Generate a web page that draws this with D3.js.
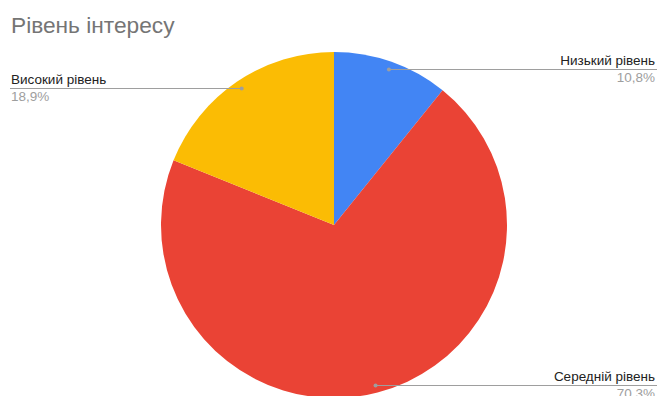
<!DOCTYPE html>
<html>
<head>
<meta charset="utf-8">
<script src="https://cdn.jsdelivr.net/npm/d3@7"></script>
<style>
	body { margin: 0; background: #fff; }
	svg { display: block; font-family: Arial, "Liberation Sans", sans-serif; }
</style>
</head>
<body>
<svg></svg>
<script>
const categories = ['Низький рівень', 'Середній рівень', 'Високий рівень'];
const values = [10.8, 70.3, 18.9];
const percentLabels = ['10,8%', '70,3%', '18,9%'];
const colors = ['#4285f4', '#ea4335', '#fbbc04'];

const width = 657;
const height = 396;
const cx = 334;
const cy = 225;
const radius = 173;
const dotRadius = 165;

const data = categories.map((c, i) => ({ name: c, value: values[i], pct: percentLabels[i], color: colors[i] }));

const svg = d3.select('svg')
	.attr('width', width)
	.attr('height', height);

svg.append('text')
	.attr('x', 11)
	.attr('y', 33)
	.attr('fill', '#757575')
	.style('font-size', '22.7px')
	.text('Рівень інтересу');

const pie = d3.pie().sort(null).value(d => d.value);
const arc = d3.arc().innerRadius(0).outerRadius(radius);
const dotArc = d3.arc().innerRadius(dotRadius).outerRadius(dotRadius);

const arcs = pie(data);

const g = svg.append('g')
	.attr('transform', `translate(${cx},${cy})`);

g.selectAll('path.slice').data(arcs)
	.enter().append('path')
		.attr('class', 'slice')
		.attr('d', arc)
		.attr('fill', d => d.data.color);

const labels = svg.append('g').selectAll('g.label').data(arcs)
	.enter().append('g')
		.attr('class', 'label');

labels.each(function(d) {
	const [dx, dy] = dotArc.centroid(d);
	const x = cx + dx;
	const y = Math.round(cy + dy) + 0.5;
	const right = dx > 0;
	const sel = d3.select(this);

	sel.append('line')
		.attr('x1', x)
		.attr('x2', right ? width : 10)
		.attr('y1', y)
		.attr('y2', y)
		.attr('stroke', '#9e9e9e')
		.attr('stroke-width', 1);

	sel.append('circle')
		.attr('cx', x)
		.attr('cy', y)
		.attr('r', 2)
		.attr('fill', '#9e9e9e');

	const tx = right ? 655 : 11;
	const anchor = right ? 'end' : 'start';

	sel.append('text')
		.attr('x', tx)
		.attr('y', y - 5)
		.attr('text-anchor', anchor)
		.attr('fill', '#222')
		.style('font-size', '13.5px')
		.text(d.data.name);

	sel.append('text')
		.attr('x', tx)
		.attr('y', y + 12)
		.attr('text-anchor', anchor)
		.attr('fill', '#9e9e9e')
		.style('font-size', '13.5px')
		.text(d.data.pct);
});
</script>
</body>
</html>
